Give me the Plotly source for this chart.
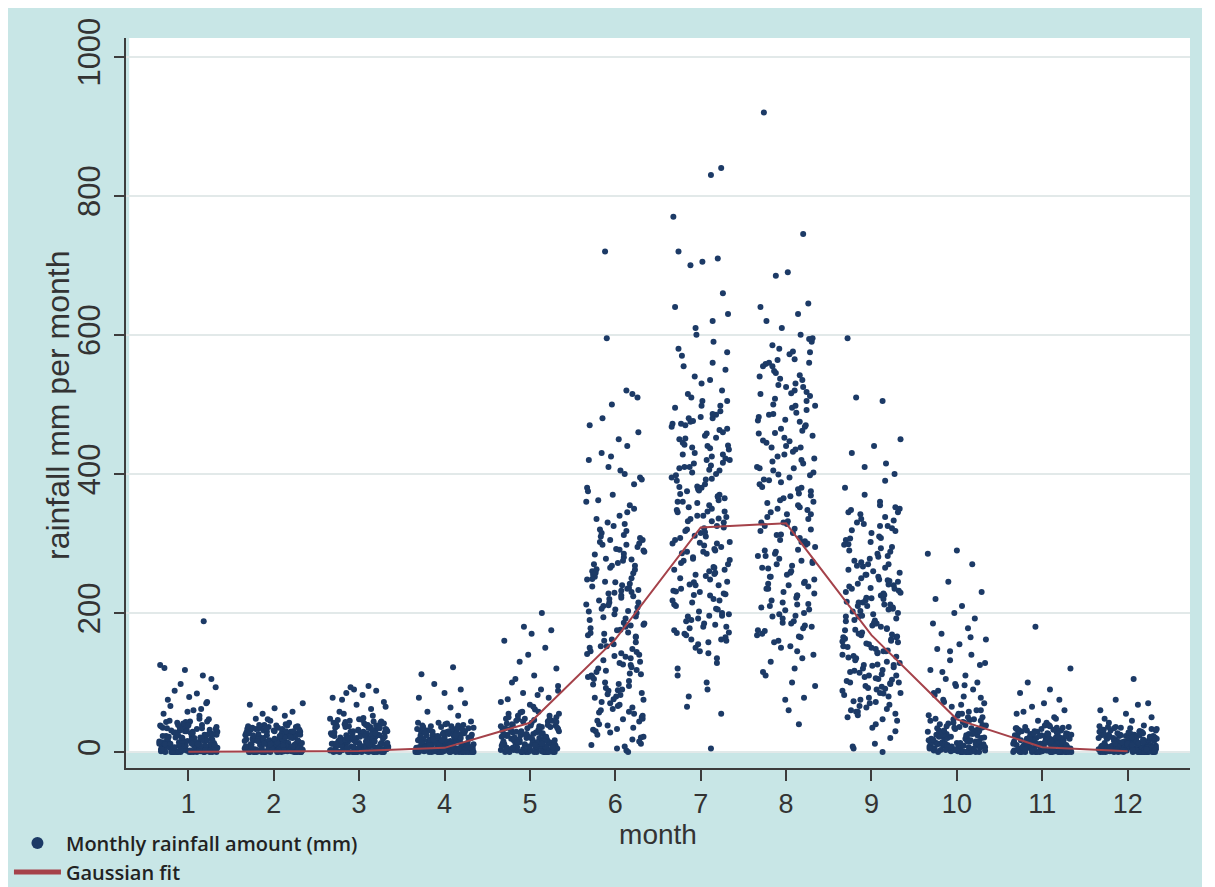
import plotly.graph_objects as go

months = list(range(1, 13))
fit_values = [0.2, 0.5, 1.5, 6, 42, 162, 323, 329, 168, 47, 7, 1]
y_ticks = [0, 200, 400, 600, 800, 1000]
x_ticks = months

jitter = [
    -0.21, 0.05, 0.31, -0.12, 0.18, -0.30, 0.02, 0.25, -0.07, 0.14,
    -0.26, 0.09, 0.33, -0.17, -0.02, 0.22, -0.32, 0.11, 0.28, -0.09,
    0.16, -0.24, 0.04, 0.30, -0.14, 0.20, -0.04, -0.29, 0.12, 0.26,
    -0.19, 0.07, -0.33, 0.23, -0.11, 0.01, 0.29, -0.22, 0.15, -0.06,
    0.32, -0.16, 0.08, -0.27, 0.19, -0.01, 0.24, -0.13, 0.10, -0.31,
    0.27, -0.08, 0.17, -0.23, 0.03, 0.34, -0.18, 0.13, -0.28, 0.21,
    -0.03, 0.06, -0.25, 0.29, -0.10, 0.18, -0.34, 0.00, 0.23, -0.15,
    0.11, -0.20, 0.31, -0.05, 0.14, -0.30, 0.26, -0.12, 0.02, 0.20,
    -0.26, 0.09, -0.17, 0.33, -0.08, 0.16, -0.22, 0.05, 0.28, -0.02,
    -0.32, 0.12, 0.24, -0.14, 0.07, -0.27, 0.19, -0.06, 0.30, -0.19,
    0.03, -0.11, 0.25, -0.29, 0.15, -0.01, 0.21, -0.24, 0.10, 0.32,
    -0.09, 0.17, -0.33, 0.06, -0.16, 0.27, -0.04, 0.13, -0.21, 0.22,
    0.01, -0.28, 0.18, -0.13, 0.34, -0.07, 0.08, -0.25, 0.26, -0.18,
    0.14, -0.03, 0.29, -0.31, 0.04, -0.15, 0.20, -0.10, 0.11, -0.23,
    0.31, -0.06, 0.16, -0.20, 0.07, 0.24, -0.30, 0.00, 0.19, -0.12,
    -0.27, 0.10, 0.28, -0.16, 0.05, -0.34, 0.22, -0.08, 0.13, 0.33,
]

rain_m1 = [0,2,5,1,8,12,0,3,15,22,6,0,18,30,4,9,27,0,11,38,2,14,0,7,45,20,3,33,1,10,
           0,25,16,5,42,0,8,19,36,2,13,0,29,6,48,1,24,9,0,17,4,31,0,12,40,3,21,7,0,26,
           15,1,35,10,0,44,5,23,2,28,0,11,39,6,18,0,32,4,14,47,1,20,8,0,37,13,3,27,9,0,
           55,62,58,70,75,84,93,98,110,125,60,88,105,118,52,66,72,79,121,188,0,6,16,2,34,11,0,21,43,5,
           4,17,28,9,35,13,22,6,41,19,31,8,26,14,38,3,24,11,33,18,7,29,15,44,21,
           5,36,12,27,10,39,16,23,2,32,20,9,43,14,25,6,30,17,37,11,26,4,34,19,12]
rain_m2 = [0,3,7,12,1,18,25,5,0,30,9,2,14,36,0,21,6,11,28,4,0,16,33,8,1,24,13,0,38,3,
           19,7,0,27,10,2,35,15,0,22,5,31,1,12,26,0,8,17,40,3,0,20,6,29,11,0,34,2,14,23,
           4,0,37,9,18,1,25,0,13,32,6,15,0,21,3,39,10,0,28,7,1,17,30,0,12,4,24,8,36,0,
           45,52,48,58,63,68,42,55,70,47,2,19,0,26,9,14,5,33,0,11,22,1,16,0,29,7,38,3,20,10,
           6,14,23,31,3,19,27,10,35,16,8,29,21,4,33,12,25,18,2,37,11,22,15,30,7,
           26,13,39,5,20,28,9,17,34,1,24,14,32,6,21,11,27,3,36,16,23,8,30,12,19]
rain_m3 = [0,4,9,15,2,22,31,6,0,38,12,3,18,44,0,27,8,14,35,5,1,20,41,10,0,29,16,2,47,7,
           24,0,11,33,3,19,42,13,0,26,6,37,1,15,30,0,9,21,49,4,0,25,8,34,14,2,40,5,17,28,
           3,0,45,11,23,1,32,0,16,39,7,19,0,27,4,43,12,0,36,9,2,22,35,0,15,6,30,10,46,0,
           55,62,68,72,78,82,85,88,93,95,58,65,90,52,75,3,24,0,13,31,18,1,21,0,36,8,48,5,26,12,
           5,18,29,11,37,15,24,7,42,20,33,9,27,13,40,4,25,12,35,19,8,31,16,46,22,
           6,38,14,28,11,44,17,23,3,34,21,10,41,15,26,7,32,18,39,12,27,5,36,20,13]
rain_m4 = [0,2,6,11,1,17,24,4,0,30,9,2,14,35,0,21,5,10,27,3,0,15,32,7,1,23,12,0,38,2,
           18,6,0,26,9,1,34,13,0,20,4,29,0,11,25,0,7,16,41,2,0,19,5,28,10,1,33,3,14,22,
           2,0,37,8,17,0,24,0,12,31,5,15,0,21,3,36,9,0,27,6,1,17,29,0,11,4,23,7,44,0,
           52,58,64,70,78,85,90,98,112,122,0,13,26,3,39,8,18,0,31,10,20,1,15,0,28,6,42,2,19,9,
           3,15,26,8,33,12,21,5,38,17,29,7,24,11,36,2,22,10,31,16,6,27,13,40,19,
           4,34,10,25,9,37,14,20,1,30,18,8,42,13,23,5,28,15,35,9,24,3,32,17,11]
rain_m5 = [0,3,8,14,2,20,28,5,0,36,11,3,17,42,0,25,7,13,33,4,1,19,46,9,0,31,15,2,52,6,
           23,0,10,38,3,18,57,12,0,27,5,44,1,14,35,0,8,22,61,4,0,26,7,40,13,2,48,5,16,30,
           3,0,55,10,21,1,34,0,15,65,7,18,0,29,4,50,11,0,39,8,2,24,68,0,14,6,32,9,45,0,
           72,78,85,90,95,100,110,120,130,150,160,170,175,180,200,76,82,88,105,140,0,12,37,3,58,19,0,26,9,47,
           6,20,34,12,45,17,28,9,52,24,38,11,31,15,48,5,29,14,41,22,8,36,18,58,26,
           7,44,16,33,13,55,19,27,4,39,23,10,50,17,30,8,37,21,47,14,32,6,43,25,12]
rain_m6 = [5,18,32,47,60,75,88,102,115,128,140,155,168,180,195,210,225,238,250,265,
           12,40,66,92,118,145,172,198,224,252,280,305,330,355,380,405,430,460,500,520,
           25,55,80,110,135,160,185,215,240,270,295,320,345,370,395,420,450,480,515,595,
           8,30,50,70,95,120,142,165,190,205,230,245,260,285,300,315,340,360,385,410,
           2,22,45,68,85,100,125,150,175,200,220,235,255,275,290,310,325,350,375,400,
           15,38,58,78,98,112,132,148,162,178,192,208,218,232,248,262,278,292,308,335,
           0,28,52,72,90,108,122,138,158,170,186,202,215,228,242,258,272,288,302,318,
           10,35,62,82,105,130,152,182,212,244,268,298,328,362,392,425,440,470,510,720,
           33,64,97,126,152,183,211,236,263,291,44,76,108,137,166,194,222,249,277,305,
           21,57,89,117,144,171,203,229,257,284,312,48,83,113,141,176,206,233,268,298]
rain_m7 = [5,55,80,100,120,135,150,160,170,180,190,200,210,220,230,240,250,260,270,280,
           290,300,310,320,330,340,350,360,370,380,390,400,410,420,430,440,450,460,470,480,
           155,165,175,185,195,205,215,225,235,245,255,265,275,285,295,305,315,325,335,345,
           355,365,375,385,395,405,415,425,435,445,455,465,475,485,495,505,520,540,560,580,
           158,172,188,202,218,232,248,262,278,292,308,322,338,352,368,382,398,412,428,442,
           458,472,490,510,530,550,570,590,610,630,65,90,110,128,145,162,178,196,212,228,
           244,258,272,288,302,318,332,348,362,378,392,408,422,438,452,468,482,498,515,535,
           555,575,600,620,640,660,700,705,710,720,142,168,198,226,256,286,316,346,376,770,
           830,840,480,420,360,300,240,180,410,340,
           162,196,231,266,301,336,371,406,441,476,183,218,253,288,323,358,393,428,463,498,
           171,206,241,276,311,346,381,416,451,486,192,227,262,297,332,367,402,437,472,505]
rain_m8 = [40,75,78,110,120,140,160,165,175,185,195,205,215,225,235,245,255,265,275,285,
           295,305,315,325,335,345,355,365,375,385,395,405,415,425,435,445,455,465,475,485,
           495,505,515,525,535,545,555,565,575,585,152,168,182,198,212,228,242,258,272,288,
           302,318,332,348,362,378,392,408,422,438,452,468,482,498,512,528,542,558,572,590,
           158,178,192,208,222,238,252,268,282,298,312,328,342,358,372,388,402,418,432,448,
           462,478,492,508,520,540,560,580,600,620,60,95,130,145,170,200,230,260,290,320,
           350,380,410,440,470,500,530,560,595,610,630,640,645,685,690,745,920,188,218,248,
           278,308,338,368,398,428,458,488,518,548,100,115,135,150,180,210,240,270,300,330,
           166,204,243,282,321,360,399,438,477,516,555,594,186,225,264,303,342,381,420,459,
           498,537,576,174,213,252,291,330,369,408,447,486,525,564,196,235,274,313,352,391]
rain_m9 = [0,5,20,35,50,62,75,85,95,105,115,125,135,145,155,165,175,185,195,205,
           215,225,235,245,255,265,275,285,295,305,315,325,335,345,355,30,58,72,88,98,
           108,118,128,138,148,158,168,178,188,198,208,218,228,238,248,258,268,278,288,298,
           308,318,328,338,348,12,45,66,80,92,102,112,122,132,142,152,162,172,182,192,
           202,212,222,232,242,252,262,282,302,322,342,360,380,400,410,415,430,440,450,510,
           505,595,68,78,90,100,110,120,130,140,150,160,170,180,190,200,210,220,230,240,
           250,260,270,290,310,330,350,370,390,8,40,55,70,82,94,104,114,126,136,146,
           156,166,176,186,196,206,216,226,236,246,60,85,100,125,145,165,185,210,235,270,
           47,73,99,124,151,177,203,229,255,281,307,333,58,84,110,137,163,189,215,241,
           267,293,319,345,64,91,117,143,169,195,221,247,273,299,325,352,53,106,159,212]
rain_m10 = [0,3,8,14,2,20,27,5,0,34,11,4,17,40,1,24,7,13,31,6,2,19,45,9,0,29,15,3,50,7,
            22,0,10,37,4,18,55,12,1,26,5,42,2,14,33,0,8,21,60,4,0,25,7,39,13,2,47,5,16,30,
            3,0,53,10,20,1,35,0,15,65,70,75,80,85,90,95,100,105,110,118,
            125,132,140,148,155,162,170,178,185,192,200,210,220,230,245,270,285,290,60,72,
            0,12,36,3,58,19,0,26,9,47,82,96,115,128,145,165,88,68,78,98,
            5,19,32,11,43,16,27,8,50,23,36,10,30,14,46,4,28,13,39,21,7,34,17,55,25,
            6,42,15,31,12,52,18,26,3,38,22,9,48,16,29,7,35,20,45,13,31,5,41,24,11]
rain_m11 = [0,2,6,10,1,15,21,4,0,27,8,2,12,31,0,18,5,9,24,3,0,13,34,6,1,20,11,0,37,2,
            16,5,0,23,8,1,30,12,0,19,3,26,0,10,22,0,6,14,39,2,0,17,4,25,9,1,29,3,13,20,
            2,0,33,7,15,0,22,0,11,28,4,14,0,19,3,32,8,0,25,5,1,16,27,0,10,4,21,6,36,0,
            45,50,55,60,65,70,75,85,90,100,120,180,48,58,42,0,12,24,3,35,7,18,1,14,0,26,9,38,2,17,
            3,14,24,7,30,11,19,5,35,15,27,6,22,10,32,2,20,9,28,13,5,25,12,38,17,
            4,31,9,23,8,34,13,18,1,27,16,7,36,11,21,4,26,14,33,8,22,3,29,15,10]
rain_m12 = [0,2,5,9,1,14,20,3,0,26,7,2,11,30,0,17,4,8,23,2,0,12,33,5,1,19,10,0,36,2,
            15,4,0,22,7,1,29,11,0,18,3,25,0,9,21,0,5,13,38,2,0,16,4,24,8,1,28,3,12,19,
            2,0,32,6,14,0,21,0,10,27,4,13,0,18,3,31,7,0,24,5,1,15,26,0,9,4,20,6,35,0,
            42,45,50,55,60,68,70,75,105,48,0,11,23,2,34,8,17,0,27,6,14,1,19,0,25,7,37,3,16,10,
            3,13,22,6,28,10,18,4,33,14,25,5,20,9,30,2,19,8,26,12,4,23,11,36,16,
            3,29,8,21,7,32,12,17,1,25,15,6,34,10,20,4,24,13,31,7,21,2,27,14,9]

rain_by_month = [rain_m1, rain_m2, rain_m3, rain_m4, rain_m5, rain_m6,
                 rain_m7, rain_m8, rain_m9, rain_m10, rain_m11, rain_m12]

xs, ys = [], []
for m, vals in zip(months, rain_by_month):
    for i, v in enumerate(vals):
        xs.append(m + jitter[(i + 13 * m) % len(jitter)])
        ys.append(v)

TEAL = "#c8e6e6"
AXIS = "#3c3c3c"
FONT = "Liberation Sans, Arial, sans-serif"

fig = go.Figure()
fig.add_trace(go.Scatter(
    x=xs, y=ys, mode="markers", name="Monthly rainfall amount (mm)",
    marker=dict(size=6, color="#1c3a66", line=dict(width=0)),
))
fig.add_trace(go.Scatter(
    x=months, y=fit_values, mode="lines", name="Gaussian fit",
    line=dict(color="#a5424a", width=2),
))

fig.add_shape(type="rect", xref="paper", yref="y", x0=0.003, x1=1, y0=0, y1=1027,
              fillcolor="white", line=dict(width=0), layer="below")

fig.add_annotation(
    text="rainfall mm per month", textangle=-90,
    xref="paper", yref="paper", x=0, y=0.5, xanchor="center", yanchor="middle",
    xshift=-68, yshift=-3, showarrow=False,
    font=dict(family=FONT, size=32, color="#333333"),
)

fig.update_layout(
    width=1194, height=879,
    paper_bgcolor=TEAL, plot_bgcolor=TEAL,
    margin=dict(l=118, r=12, t=30, b=119, autoexpand=False),
    showlegend=True,
    legend=dict(
        x=-0.110, y=-0.076, xanchor="left", yanchor="top",
        bgcolor="rgba(0,0,0,0)", itemsizing="constant", itemwidth=47,
        font=dict(family="Open Sans, sans-serif", size=20, color="#222222", weight=650),
        tracegroupgap=0,
    ),
    xaxis=dict(
        range=[0.27, 12.73], tickvals=x_ticks, ticktext=[str(t) for t in x_ticks],
        showgrid=False, zeroline=False, showline=True, linecolor=AXIS, linewidth=2,
        ticks="outside", ticklen=11, tickwidth=2, tickcolor=AXIS,
        tickfont=dict(family=FONT, size=27, color="#333333"),
        title=dict(text="month", font=dict(family=FONT, size=28, color="#333333"), standoff=4),
        automargin=False,
    ),
    yaxis=dict(
        range=[-23, 1027], tickvals=y_ticks, ticktext=[str(t) for t in y_ticks],
        showgrid=True, gridcolor="#e2e9e9", gridwidth=2, zeroline=False,
        showline=True, linecolor=AXIS, linewidth=2,
        ticks="outside", ticklen=10, tickwidth=2, tickcolor=AXIS, tickangle=-90,
        tickfont=dict(family=FONT, size=31, color="#333333"), ticklabelstandoff=2,
        automargin=False,
    ),
)

fig.write_html("out.html")
